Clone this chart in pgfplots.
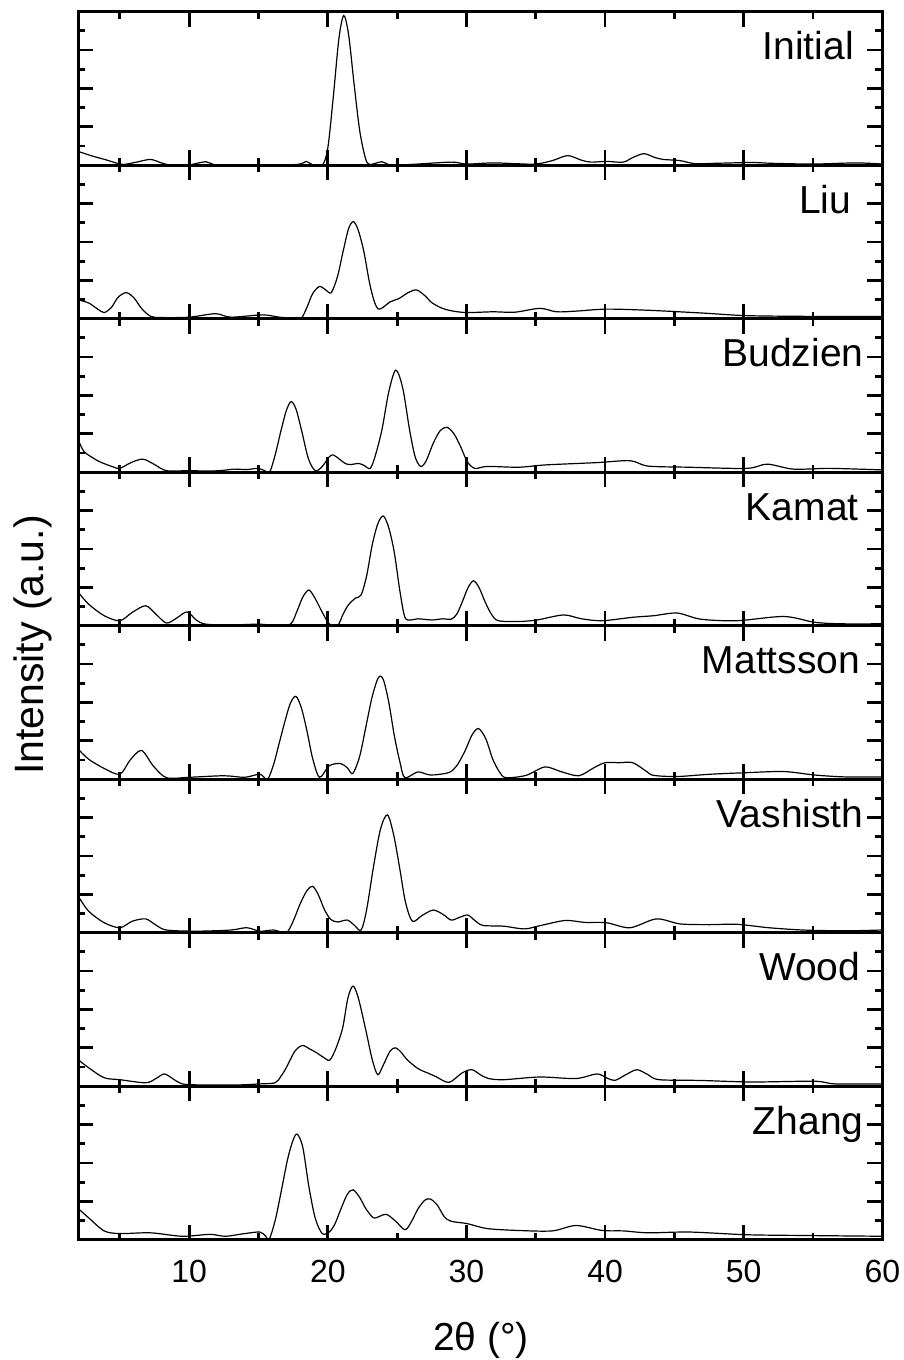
\documentclass[border=0pt]{standalone}
\usepackage{fontspec}
\setmainfont{Liberation Sans}
\usepackage{pgfplots}
\pgfplotsset{compat=1.18}

\pgfplotsset{
  panel/.style={
    scale only axis,
    width=402pt, height=76.75pt,
    xmin=2, xmax=60, ymin=0, ymax=4,
    xtick={10,20,...,60},
    minor xtick={5,15,...,55},
    ytick={1,2,3},
    minor ytick={0.5,1.5,2.5,3.5},
    xticklabels={}, yticklabels={},
    tick align=inside,
    xtick pos=both, ytick pos=both,
    major tick length=7.5pt,
    minor tick length=3.5pt,
    tick style={line width=1.4pt, black},
    minor tick style={line width=1.4pt, black},
    axis line style={line width=1.5pt},
    /pgf/number format/assume math mode=true,
    tick label style={font=\fontsize{16}{19}\selectfont, inner sep=0pt},
  },
  xrd/.style={black, line width=0.6pt, smooth, tension=0.5, mark=none},
}
\tikzset{panel label/.style={anchor=base east, inner sep=0pt, font=\fontsize{19.5}{23}\selectfont}}

\begin{document}
\begin{tikzpicture}
\useasboundingbox (0,0) rectangle (452pt,-680pt);

% Initial
\begin{axis}[panel, at={(39.15pt,-5.85pt)}, anchor=north west]
\addplot[xrd] coordinates {(2,0.36)(3,0.24)(4,0.14)(4.8,0.05)(5.3,0.02)(6.2,0.08)(7.2,0.15)(8.0,0.06)(8.6,0.01)(10,0.01)(11.2,0.09)(12,0.01)(15,0.01)(17.8,0.02)(18.45,0.1)(18.9,0.01)(19.6,0)(20.0,0.45)(20.4,1.8)(20.8,3.3)(21.15,3.9)(21.5,3.4)(21.9,2.1)(22.3,0.9)(22.7,0.2)(23.0,0.02)(23.9,0.09)(24.5,0.01)(26,0.02)(28.9,0.08)(30,0.03)(31.9,0.06)(33.5,0.04)(35,0.03)(36.2,0.12)(37.3,0.25)(38.3,0.13)(39,0.08)(40.1,0.1)(41.3,0.08)(42.0,0.2)(42.8,0.3)(43.6,0.2)(44.2,0.15)(45.4,0.12)(46.5,0.04)(48,0.05)(50.6,0.07)(52,0.05)(55,0.03)(58.1,0.06)(60,0.03)};
\node[panel label] at (rel axis cs:0.965,0.687) {Initial};
\end{axis}

% Liu
\begin{axis}[panel, at={(39.15pt,-82.6pt)}, anchor=north west]
\addplot[xrd] coordinates {(2,0.49)(2.75,0.41)(3.4,0.25)(3.87,0.16)(4.4,0.3)(4.85,0.55)(5.44,0.68)(6.0,0.55)(6.6,0.25)(7.24,0.06)(8,0.03)(10,0.04)(11.9,0.13)(13,0.04)(15.3,0.1)(16.5,0.04)(17.6,0.01)(18.1,0.02)(18.5,0.3)(18.9,0.65)(19.4,0.84)(19.85,0.75)(20.25,0.68)(20.7,1.1)(21.1,1.75)(21.5,2.35)(21.85,2.53)(22.2,2.3)(22.6,1.75)(23.0,0.95)(23.35,0.45)(23.65,0.25)(24.0,0.3)(24.5,0.44)(25.1,0.52)(25.8,0.68)(26.4,0.75)(27.0,0.6)(27.5,0.42)(28.2,0.28)(29,0.2)(30.05,0.16)(31.9,0.18)(33.5,0.17)(35.3,0.27)(36.5,0.18)(38,0.2)(40.1,0.25)(43.1,0.22)(46.9,0.15)(50.2,0.08)(55,0.06)(60,0.06)};
\node[panel label] at (rel axis cs:0.962,0.687) {Liu};
\end{axis}

% Budzien
\begin{axis}[panel, at={(39.15pt,-159.35pt)}, anchor=north west]
\addplot[xrd] coordinates {(2,0.84)(2.3,0.6)(2.6,0.48)(3.5,0.28)(4.5,0.14)(5,0.1)(5.8,0.25)(6.67,0.34)(7.5,0.2)(8.36,0.04)(10,0.04)(11.5,0.03)(12.5,0.05)(13.2,0.08)(14.2,0.07)(14.9,0.1)(15.4,0.05)(15.8,0.0)(16.2,0.45)(16.6,1.05)(17.0,1.6)(17.35,1.84)(17.7,1.65)(18.1,1.1)(18.6,0.35)(19.1,0.04)(19.6,0.15)(20.1,0.4)(20.4,0.45)(20.8,0.35)(21.3,0.22)(21.7,0.2)(22.2,0.23)(22.6,0.18)(23.05,0.1)(23.4,0.4)(23.9,1.1)(24.4,2.1)(24.9,2.66)(25.4,2.2)(25.9,1.1)(26.3,0.4)(26.7,0.15)(27.1,0.3)(27.6,0.75)(28.1,1.08)(28.6,1.17)(29.1,1.0)(29.6,0.65)(30.05,0.28)(30.6,0.1)(31.5,0.15)(33.8,0.13)(35.7,0.19)(39.4,0.25)(41.8,0.3)(43.1,0.16)(46,0.13)(50.2,0.1)(51.7,0.21)(53.6,0.08)(56.2,0.1)(60,0.06)};
\node[panel label] at (rel axis cs:0.977,0.687) {Budzien};
\end{axis}

% Kamat
\begin{axis}[panel, at={(39.15pt,-236.1pt)}, anchor=north west]
\addplot[xrd] coordinates {(2,0.87)(2.75,0.56)(3.87,0.26)(5,0.13)(5.9,0.35)(6.86,0.52)(7.6,0.3)(8.36,0.07)(9.1,0.2)(9.85,0.36)(10.5,0.15)(11.2,0.04)(13,0.02)(15,0.04)(16.2,0.01)(17.3,0.04)(17.8,0.4)(18.2,0.75)(18.64,0.93)(19.1,0.7)(19.6,0.35)(20.1,0.05)(20.7,0.0)(21.1,0.3)(21.5,0.55)(22.0,0.72)(22.4,0.8)(22.8,1.3)(23.2,2.1)(23.6,2.65)(24.0,2.86)(24.4,2.55)(24.8,1.9)(25.2,0.9)(25.56,0.22)(26.0,0.15)(26.5,0.18)(27.5,0.15)(28.3,0.18)(28.9,0.17)(29.3,0.3)(29.7,0.62)(30.1,0.98)(30.5,1.17)(30.9,1.0)(31.36,0.61)(31.8,0.3)(32.3,0.13)(33.8,0.11)(35.1,0.15)(37,0.28)(38.3,0.18)(39.8,0.13)(42,0.22)(43.5,0.26)(45.2,0.33)(46.9,0.17)(49.5,0.13)(52.9,0.24)(55.1,0.09)(57,0.05)(60,0.05)};
\node[panel label] at (rel axis cs:0.971,0.687) {Kamat};
\end{axis}

% Mattsson
\begin{axis}[panel, at={(39.15pt,-312.85pt)}, anchor=north west]
\addplot[xrd] coordinates {(2,0.78)(2.75,0.52)(3.87,0.28)(5,0.13)(5.74,0.5)(6.56,0.75)(7.4,0.35)(8.36,0.04)(10,0.05)(12.5,0.09)(14,0.05)(15.1,0.13)(15.65,0.0)(16.1,0.4)(16.5,0.95)(16.9,1.5)(17.3,1.98)(17.7,2.16)(18.1,1.85)(18.5,1.25)(18.9,0.55)(19.4,0.05)(20.1,0.35)(20.9,0.41)(21.4,0.3)(21.8,0.15)(22.3,0.6)(22.76,1.39)(23.2,2.15)(23.65,2.65)(24.0,2.6)(24.4,2.0)(24.8,1.13)(25.2,0.45)(25.56,0.04)(26.5,0.19)(27.4,0.11)(28.7,0.17)(29.3,0.35)(29.9,0.74)(30.4,1.15)(30.87,1.32)(31.4,1.05)(31.9,0.52)(32.4,0.18)(32.85,0.04)(34.3,0.1)(35.66,0.32)(36.8,0.2)(38.1,0.09)(39.2,0.3)(40,0.43)(41,0.43)(42,0.43)(43,0.2)(43.5,0.1)(45.2,0.07)(47.6,0.13)(50.2,0.17)(52.9,0.2)(55.1,0.11)(57.3,0.06)(60,0.06)};
\node[panel label] at (rel axis cs:0.973,0.687) {Mattsson};
\end{axis}

% Vashisth
\begin{axis}[panel, at={(39.15pt,-389.6pt)}, anchor=north west]
\addplot[xrd] coordinates {(2,0.95)(2.75,0.56)(3.87,0.26)(5,0.13)(5.9,0.3)(6.86,0.36)(7.6,0.2)(8.36,0.07)(10.5,0.04)(13,0.07)(14.15,0.13)(15.1,0.04)(16.1,0.07)(17,0.0)(17.5,0.3)(18.0,0.75)(18.5,1.1)(18.9,1.21)(19.3,1.0)(19.76,0.6)(20.2,0.35)(20.7,0.28)(21.4,0.33)(21.9,0.2)(22.4,0.07)(22.8,0.6)(23.3,1.73)(23.8,2.7)(24.3,3.07)(24.75,2.55)(25.2,1.65)(25.6,0.8)(26.1,0.3)(26.8,0.45)(27.6,0.59)(28.3,0.48)(28.9,0.33)(29.5,0.4)(30.1,0.46)(30.6,0.32)(31.2,0.19)(32.7,0.17)(34.2,0.1)(35.5,0.2)(37.15,0.32)(38.5,0.27)(40.1,0.26)(41.8,0.13)(43.7,0.36)(45.4,0.23)(47.5,0.21)(49.5,0.22)(51.8,0.13)(54.3,0.07)(57.3,0.05)(60,0.07)};
\node[panel label] at (rel axis cs:0.977,0.687) {Vashisth};
\end{axis}

% Wood
\begin{axis}[panel, at={(39.15pt,-466.35pt)}, anchor=north west]
\addplot[xrd] coordinates {(2,0.69)(2.75,0.48)(3.87,0.22)(5,0.17)(6.86,0.09)(7.6,0.2)(8.2,0.32)(8.8,0.2)(9.3,0.09)(10,0.04)(13.2,0.03)(15.1,0.06)(16.2,0.09)(16.6,0.25)(17.0,0.48)(17.6,0.9)(18.15,1.06)(18.7,0.97)(19.2,0.87)(19.7,0.75)(20.14,0.68)(20.6,1.0)(21.07,1.52)(21.45,2.3)(21.82,2.61)(22.2,2.3)(22.76,1.43)(23.2,0.7)(23.6,0.3)(24.0,0.55)(24.5,0.92)(24.9,1.0)(25.3,0.88)(25.7,0.7)(26.5,0.46)(27.3,0.33)(27.8,0.25)(28.74,0.1)(29.7,0.35)(30.4,0.43)(31.0,0.3)(31.6,0.2)(32.7,0.17)(35.3,0.24)(37.9,0.2)(39.4,0.32)(40.1,0.22)(40.7,0.15)(41.5,0.3)(42.3,0.43)(43.1,0.3)(43.9,0.17)(46.9,0.15)(50.6,0.11)(55.1,0.13)(56.6,0.06)(60,0.06)};
\node[panel label] at (rel axis cs:0.973,0.687) {Wood};
\end{axis}

% Zhang (carries the x tick labels)
\begin{axis}[panel, at={(39.15pt,-543.1pt)}, anchor=north west,
  xticklabels={10,20,30,40,50,60}, xticklabel shift=10pt]
\addplot[xrd] coordinates {(2,0.81)(2.75,0.57)(3.87,0.23)(5,0.16)(7.2,0.18)(9.5,0.09)(11.5,0.14)(12.6,0.09)(14,0.16)(15.1,0.2)(15.5,0.1)(15.76,0.0)(16.2,0.5)(16.6,1.19)(17.1,2.1)(17.5,2.6)(17.8,2.75)(18.2,2.4)(18.64,1.37)(19.1,0.55)(19.6,0.16)(20.1,0.2)(20.5,0.4)(20.9,0.76)(21.4,1.18)(21.82,1.3)(22.3,1.1)(22.76,0.8)(23.3,0.57)(23.8,0.62)(24.25,0.66)(24.9,0.48)(25.56,0.26)(26.0,0.45)(26.5,0.8)(27.0,1.03)(27.4,1.06)(27.9,0.9)(28.4,0.6)(28.9,0.48)(30.05,0.42)(31.5,0.29)(33.8,0.24)(36.2,0.23)(37.9,0.37)(39.8,0.24)(41.3,0.23)(43.1,0.18)(46.1,0.2)(50.2,0.13)(54.3,0.11)(60,0.09)};
\node[panel label] at (rel axis cs:0.977,0.687) {Zhang};
\end{axis}

% axis titles
\node[anchor=base, inner sep=0pt, font=\fontsize{19.5}{23}\selectfont] at (240.5pt,-675pt) {2θ (°)};
\node[anchor=base, rotate=90, inner sep=0pt, font=\fontsize{20.5}{24}\selectfont] at (21.5pt,-322.5pt) {Intensity (a.u.)};
\end{tikzpicture}
\end{document}
